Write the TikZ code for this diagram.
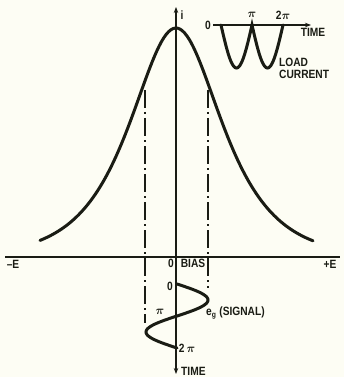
\documentclass[tikz,border=0pt]{standalone}
\usepackage{fontspec}
\setsansfont[FakeStretch=0.85]{Liberation Sans}
\usetikzlibrary{arrows.meta}
\definecolor{ink}{RGB}{26,28,20}
\definecolor{paper}{RGB}{253,253,244}

\begin{document}
\begin{tikzpicture}[x=1pt,y=-1pt,
  axis/.style={ink, line width=1.5pt},
  curve/.style={ink, line width=3pt, line cap=round},
  proj/.style={ink, line width=2pt, dash pattern=on 18pt off 4pt on 2pt off 4pt},
  lbl/.style={text=ink, inner sep=0pt, font=\sffamily\bfseries\boldmath\fontsize{12}{13}\selectfont},
  tip/.style={-{Stealth[length=6pt,width=4.5pt]}}]
  % Paper
  \fill[paper] (0,0) rectangle (344,377);
  \useasboundingbox (0,0) rectangle (344,377);

  % Axes
  \coordinate (xl) at (5,257);
  \coordinate (xr) at (340,257);
  \coordinate (itop) at (176,7);
  \coordinate (tbot) at (176,374);
  \draw[axis] (xl) -- (xr);
  \draw[axis, {Stealth[length=6pt,width=4.5pt]}-{Stealth[length=6pt,width=4.5pt]}] (tbot) -- (itop);

  % Transfer curve
  \draw[curve] plot[domain=-136:137, samples=120, smooth] ({176+\x},{257-229/cosh(\x/41)});

  % Projection lines
  \coordinate (pl1) at (145,90);
  \coordinate (pl2) at (145,323);
  \coordinate (pr1) at (208,90);
  \coordinate (pr2) at (208,288);
  \draw[proj] (pl1) -- (pl2);
  \draw[proj] (pr1) -- (pr2);

  % Signal
  \draw[curve] plot[domain=0:360, samples=73, smooth] ({177+31*sin(\x)},{284+\x/360*64});

  % Load current
  \draw[curve] plot[domain=0:360, samples=73] ({221+\x/180*31},{25+43*abs(sin(\x))});

  % Labels
  \node[lbl] (ilab) at (182,15) {i};
  \node[lbl] (zl) at (208,25) {0};
  \node[lbl] (pl) at (252,15) {$\pi$};
  \node[lbl] (tpl) at (283,15) {2$\pi$};
  \node[lbl] (timet) at (313,32) {TIME};
  \node[lbl, anchor=west] (load) at (279,62) {LOAD};
  \node[lbl, anchor=west] (cur) at (279,74) {CURRENT};
  \node[lbl] (mE) at (13,264) {–E};
  \node[lbl] (pE) at (330,264) {+E};
  \node[lbl] (z0) at (171,263) {0};
  \node[lbl] (bias) at (193,263) {BIAS};
  \node[lbl] (zs) at (170,286) {0};
  \node[lbl] (ps) at (160,312) {$\pi$};
  \node[lbl] (tps) at (187,348) {2\,$\pi$};
  \node[lbl, anchor=west] (sig) at (206,313) {e\textsubscript{g} (SIGNAL)};
  \node[lbl, anchor=west] (timeb) at (181,371) {TIME};

  % Load axis
  \coordinate (lend) at (311,25);
  \draw[axis, tip, shorten <=2pt] (zl) -- (lend);
\end{tikzpicture}
\end{document}
